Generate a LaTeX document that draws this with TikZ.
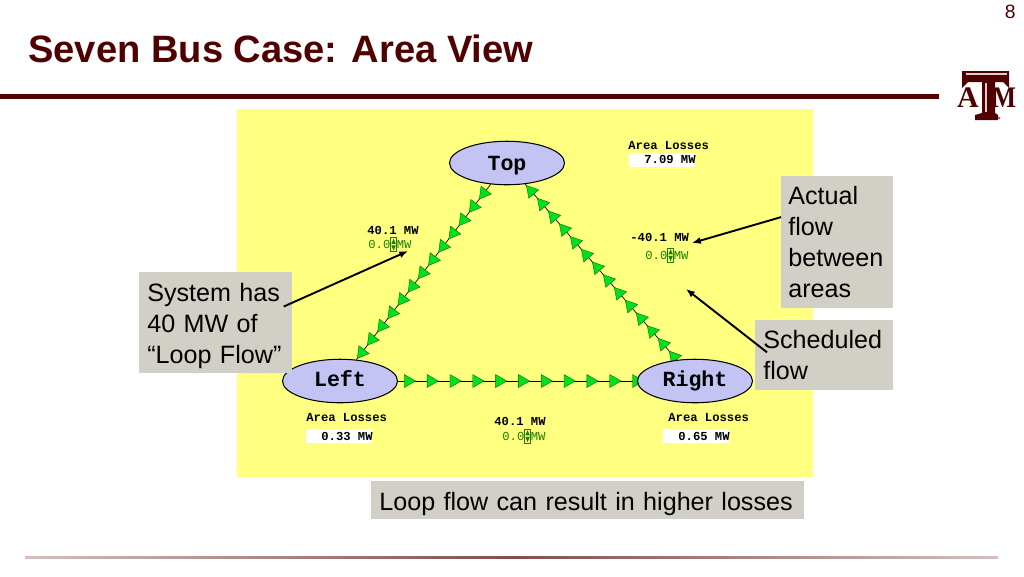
\documentclass[tikz,border=0pt]{standalone}
\usepackage{fontspec}
\setmainfont{Liberation Sans}
\setmonofont{Liberation Mono}
\newfontfamily\logofont{Liberation Serif}
\usetikzlibrary{shapes.geometric, calc, backgrounds, arrows.meta}

\definecolor{maroon}{HTML}{500000}
\definecolor{panel}{HTML}{FFFF80}
\definecolor{callout}{HTML}{D2D0C6}
\definecolor{area}{HTML}{C4C4F4}
\definecolor{flowfill}{HTML}{00E020}
\definecolor{flowline}{HTML}{006000}
\definecolor{sched}{HTML}{1E8000}

\newcommand{\spinner}{\tikz[x=1pt, y=1pt, baseline=1.8pt]{\draw[line width=0.3pt] (0, 0) rectangle (3.4, 8); \fill (0.4, 4.4) -- (3, 4.4) -- (1.7, 7.4) -- cycle; \fill (0.4, 3.6) -- (3, 3.6) -- (1.7, 0.6) -- cycle;}}

\begin{document}
\begin{tikzpicture}[x=0.02cm, y=-0.02cm]

\tikzstyle{a}=[draw=black, semithick, ellipse, fill=area, inner sep=0pt, minimum width=2.3cm, minimum height=0.87cm, text height=8.5pt, text depth=2pt, font=\ttfamily\bfseries\fontsize{12.3}{14}\selectfont];
\tikzstyle{tip}=[draw=flowline, fill=flowfill, very thin, regular polygon, regular polygon sides=3, inner sep=0pt, minimum size=0.3cm];
\tikzstyle{f}=[anchor=base west, inner sep=0pt, font=\ttfamily\bfseries\fontsize{6.95}{8}\selectfont];
\tikzstyle{s}=[f, text=sched, font=\ttfamily\fontsize{6.95}{8}\selectfont];
\tikzstyle{w}=[anchor=north west, fill=white, inner sep=0pt, minimum width=1.32cm, minimum height=0.28cm];
\tikzstyle{c}=[anchor=north west, fill=callout, inner ysep=0pt, inner xsep=0.16cm, align=left, font=\fontsize{14.3}{17.6}\selectfont];
\tikzstyle{e}=[-{Latex[length=5pt,width=4pt]}, line width=1.1pt];

\useasboundingbox (0, 0) rectangle (1024, 576);

% header
\node[anchor=base west, inner sep=0pt, text=maroon, font=\bfseries\fontsize{21.7}{24}\selectfont] (title) at (28, 62) {Seven Bus Case: Area View};
\node[anchor=base east, inner sep=0pt, text=maroon, font=\fontsize{11}{12}\selectfont] (page) at (1016, 18) {8};
\fill[maroon] (0, 93.5) rectangle (939, 98.5);
\shade[left color=maroon!25, right color=maroon!25, middle color=maroon!70] (25, 556) rectangle (998, 558);

% logo
\fill[maroon] (962, 71) -- (1009, 71) -- (1009, 88) -- (1003, 82) -- (995, 82) -- (995, 113) -- (998, 115) -- (998, 120) -- (975, 120) -- (975, 115) -- (982, 113) -- (982, 82) -- (968, 82) -- (962, 88) -- cycle;
\fill[white!80!maroon] (966, 73) -- (1007, 73) -- (1007, 75) -- (966, 75) -- cycle;
\fill[white!80!maroon] (985, 83) -- (986.5, 83) -- (986.5, 112) -- (985, 112) -- cycle;
\node[inner sep=0pt, text=maroon, font=\logofont\bfseries\fontsize{17}{17}\selectfont] (logoa) at (968, 98) {A};
\node[inner sep=0pt, xscale=0.85, text=maroon, font=\logofont\bfseries\fontsize{17}{17}\selectfont] (logom) at (1004, 98) {M};
\fill[maroon!60] (999, 118) circle (1.5);

% areas
\node[a, text height=9pt, text depth=1pt] (top) at (507, 163) {Top};
\node[a] (left) at (340, 381) {Left};
\node[a] (right) at (695, 381) {Right};

\begin{scope}[on background layer]
\fill[panel] (237, 109) rectangle (813, 477);
\draw[thin] (top) -- (left) foreach \i [evaluate=\i as \p using 0.05+\i*0.0758] in {0,...,12} {node[tip, rotate=142.5, pos=\p] (tl\i) {}};
\draw[thin] (top) -- (right) foreach \i [evaluate=\i as \p using 0.04+\i*0.0725] in {0,...,13} {node[tip, rotate=40.8, pos=\p] (rt\i) {}};
\draw[thin] (left) -- (right) foreach \i [evaluate=\i as \p using 0.042+\i*0.0955] in {0,...,10} {node[tip, rotate=-90, pos=\p] (lr\i) {}};
\end{scope}

% flows
\node[f] (tlact) at (367, 234) {40.1 MW};
\node[s] (tlsch) at (368, 248.5) {0.0\spinner MW};
\node[f] (rtact) at (630, 241) {-40.1 MW};
\node[s] (rtsch) at (645, 259) {0.0\spinner MW};
\node[f] (lract) at (494, 425) {40.1 MW};
\node[s] (lrsch) at (502, 440) {0.0\spinner MW};

% losses
\node[f] (toploss) at (628, 149) {Area Losses};
\node[w] (topbox) at (629, 153) {};
\node[f] (topval) at (644, 163.5) {7.09 MW};
\node[f] (leftloss) at (306, 421.5) {Area Losses};
\node[w] (leftbox) at (306, 429) {};
\node[f] (leftval) at (321, 440) {0.33 MW};
\node[f] (rightloss) at (668, 421.5) {Area Losses};
\node[w] (rightbox) at (663, 429) {};
\node[f] (rightval) at (678, 440) {0.65 MW};

% callouts
\node[c, inner xsep=0.14cm, text width=1.96cm, minimum height=2.64cm] (actual) at (781, 176) {Actual\\flow\\between\\areas};
\node[c, text width=2.74cm, minimum height=2.02cm, text height=14pt] (system) at (139, 272) {System has\\40 MW of\\“Loop Flow”};
\node[c, text width=2.44cm, minimum height=1.4cm] (scheduled) at (755, 320) {Scheduled\\flow};
\node[c, text width=8.34cm, minimum height=0.76cm, text height=14pt] (losses) at (371, 481) {Loop flow can result in higher losses};

\coordinate (loopend) at (408, 251);
\coordinate (actualend) at (692, 243);
\coordinate (schedend) at (686, 289);

\draw[e] ($(system.north east)!0.34!(system.south east)+(-9, 0)$) -- (loopend);
\draw[e] ($(actual.north west)!0.31!(actual.south west)$) -- (actualend);
\draw[e] ($(scheduled.north west)!0.457!(scheduled.south west)+(12, 0)$) -- (schedend);
\end{tikzpicture}
\end{document}
